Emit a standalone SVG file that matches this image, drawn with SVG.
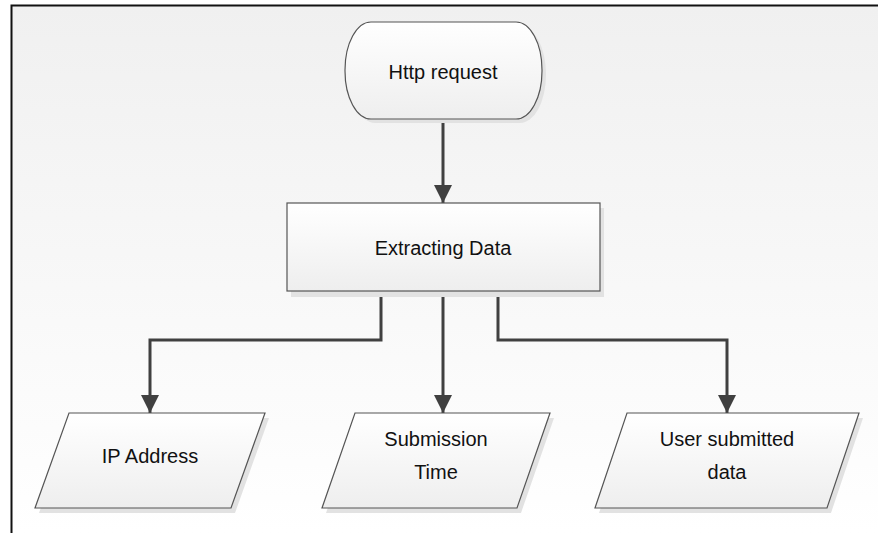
<svg xmlns="http://www.w3.org/2000/svg" width="878" height="533" viewBox="0 0 878 533">
<defs>
<linearGradient id="bg" x1="0" y1="0" x2="0" y2="1">
<stop offset="0" stop-color="#f0f0f0"/>
<stop offset="1" stop-color="#ffffff"/>
</linearGradient>
<linearGradient id="nodeFill" x1="0" y1="0" x2="0" y2="1">
<stop offset="0" stop-color="#ffffff"/>
<stop offset="1" stop-color="#eeeeee"/>
</linearGradient>
<marker id="arrow" viewBox="0 0 18 18" refX="18" refY="9" markerWidth="18" markerHeight="18" markerUnits="userSpaceOnUse" orient="auto">
<path d="M0,0 L18,9 L0,18 Z" fill="#404040"/>
</marker>
<style>
.lbl{font-family:"Liberation Sans",Arial,sans-serif;font-size:20px;fill:#111111;text-anchor:middle}
.shadow{fill:#e2e2e2}
.shape{fill:url(#nodeFill);stroke:#555555;stroke-width:1.2}
.conn{fill:none;stroke:#404040;stroke-width:3;marker-end:url(#arrow)}
</style>
</defs>
<rect x="0" y="0" width="878" height="533" fill="#ffffff"/>
<rect x="11" y="6" width="867" height="527" fill="url(#bg)"/>
<path d="M11.5,533 V5.5 H878" fill="none" stroke="#111111" stroke-width="2"/>

<g id="connectors">
<path class="conn" d="M443,119 V203"/>
<path class="conn" d="M381,291 V340 H150 V413"/>
<path class="conn" d="M443,291 V413"/>
<path class="conn" d="M498,291 V340 H727 V413"/>
</g>

<g id="http-request">
<rect class="shadow" x="349" y="26" width="197" height="97" rx="26" ry="48"/>
<rect class="shape" x="345" y="22" width="197" height="97" rx="26" ry="48" stroke="#444444"/>
<text class="lbl" x="443" y="79">Http request</text>
</g>

<g id="extracting-data">
<rect class="shadow" x="291" y="208" width="313" height="89"/>
<rect class="shape" x="287" y="203" width="313" height="88" stroke="#808080" stroke-width="1.8"/>
<text class="lbl" x="443" y="255">Extracting Data</text>
</g>

<g id="ip-address">
<polygon class="shadow" points="73,418 269,418 235,513 39,513"/>
<polygon class="shape" points="69,413 265,413 231,508 35,508"/>
<text class="lbl" x="150" y="463">IP Address</text>
</g>

<g id="submission-time">
<polygon class="shadow" points="359,418 554,418 521,513 326,513"/>
<polygon class="shape" points="355,413 550,413 517,508 322,508"/>
<text class="lbl" x="436" y="446">Submission</text>
<text class="lbl" x="436" y="479">Time</text>
</g>

<g id="user-submitted-data">
<polygon class="shadow" points="631,418 863,418 831,513 599,513"/>
<polygon class="shape" points="627,413 859,413 827,508 595,508"/>
<text class="lbl" x="727" y="446">User submitted</text>
<text class="lbl" x="727" y="479">data</text>
</g>
</svg>
